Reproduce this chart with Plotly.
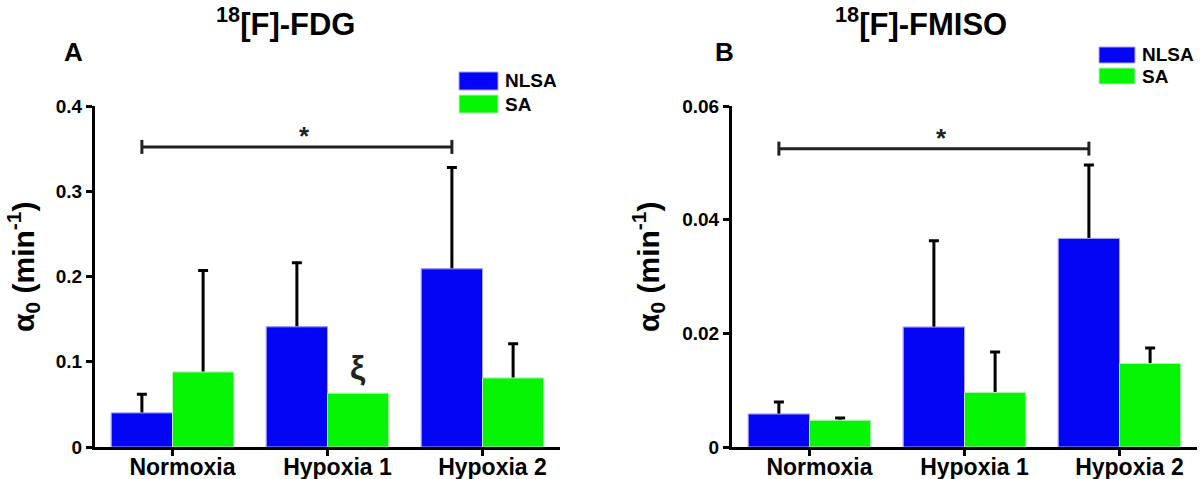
import numpy as np
import plotly.graph_objects as go

categories = ['Normoxia', 'Hypoxia 1', 'Hypoxia 2']

# 18[F]-FDG, alpha0 (min-1)
fdg_nlsa = [0.040, 0.141, 0.209]
fdg_nlsa_err = [0.022, 0.075, 0.119]
fdg_sa = [0.088, 0.063, 0.081]
fdg_sa_err = [0.119, None, 0.040]

# 18[F]-FMISO, alpha0 (min-1)
fmiso_nlsa = [0.0058, 0.0211, 0.0367]
fmiso_nlsa_err = [0.0021, 0.0152, 0.0129]
fmiso_sa = [0.0047, 0.0096, 0.0147]
fmiso_sa_err = [0.0004, 0.0071, 0.0027]

# significance bracket heights (Normoxia NLSA vs Hypoxia 2 NLSA)
fdg_bracket = 0.352
fmiso_bracket = 0.0525
xi_level = 0.094  # marker above Hypoxia 1 SA in panel A

W, H = 1200, 479
FONT = 'Liberation Sans, Arial, sans-serif'
BLUE, BLUE_EDGE = '#0505f5', '#a8a8f0'
GREEN, GREEN_EDGE = '#05f505', '#b8f0b8'
bargap = 0.21
off = (1 - bargap) / 4  # centre offset of each bar inside its group


def px(x):
    return x / W


def py(y):
    return 1 - y / H


fig = go.Figure()

panels = [
    ('x', 'y', 'A', 0.4, fdg_nlsa, fdg_nlsa_err, fdg_sa, fdg_sa_err),
    ('x2', 'y2', 'B', 0.06, fmiso_nlsa, fmiso_nlsa_err, fmiso_sa, fmiso_sa_err),
]

for xa, ya, tag, ymax, nlsa, nlsa_err, sa, sa_err in panels:
    # tuck the lower cap of each error bar just inside the bar (hidden by the cover bars)
    tuck = ymax * 3 / 341
    for name, vals, err, col, edge in [('NLSA', nlsa, nlsa_err, BLUE, BLUE_EDGE),
                                       ('SA', sa, sa_err, GREEN, GREEN_EDGE)]:
        up = np.array(err, dtype=float)
        down = np.where(np.isnan(up), np.nan, tuck)
        fig.add_trace(go.Bar(
            x=categories, y=vals, name=name, xaxis=xa, yaxis=ya,
            offsetgroup=tag + name, showlegend=False,
            marker=dict(color=col, line=dict(color=edge, width=1)),
            error_y=dict(type='data', array=up, arrayminus=down, symmetric=False,
                         color='black', thickness=3, width=5),
        ))
    # same bars again on top so the error bars start at the bar top
    for name, vals, col, edge in [('NLSA', nlsa, BLUE, BLUE_EDGE), ('SA', sa, GREEN, GREEN_EDGE)]:
        fig.add_trace(go.Bar(
            x=categories, y=vals, name=name, xaxis=xa, yaxis=ya,
            offsetgroup=tag + name, showlegend=False, hoverinfo='skip',
            marker=dict(color=col, line=dict(color=edge, width=1)),
        ))

ydom = [py(447), py(106)]
xcommon = dict(type='category', range=[-0.5, 2.5], showline=True, linewidth=3, linecolor='black',
               ticks='outside', ticklen=6, tickwidth=3, tickcolor='black', showgrid=False,
               zeroline=False, automargin=False, ticklabelstandoff=-9, ticklabelshift=10,
               tickfont=dict(family=FONT, size=23, color='black', weight='bold'))
ycommon = dict(showline=True, linewidth=3, linecolor='black', ticks='outside', ticklen=6,
               tickwidth=3, tickcolor='black', showgrid=False, zeroline=False, automargin=False,
               tickfont=dict(family=FONT, size=19, color='black', weight='bold'))

fig.update_layout(
    width=W, height=H, margin=dict(l=0, r=0, t=0, b=0, autoexpand=False),
    paper_bgcolor='white', plot_bgcolor='white',
    barmode='group', bargap=bargap, bargroupgap=0,
    xaxis=dict(domain=[px(95), px(560)], anchor='y', **xcommon),
    yaxis=dict(domain=ydom, anchor='x', range=[0, 0.4], dtick=0.1, **ycommon),
    xaxis2=dict(domain=[px(732), px(1197)], anchor='y2', **xcommon),
    yaxis2=dict(domain=ydom, anchor='x2', range=[0, 0.06], dtick=0.02, **ycommon),
)

shapes = []
annotations = []

# significance brackets with star
for xa, ya, level in [('x', 'y', fdg_bracket), ('x2', 'y2', fmiso_bracket)]:
    x0, x1 = 0 - off, 2 - off
    shapes.append(dict(type='line', xref=xa, yref=ya, x0=x0, x1=x1, y0=level, y1=level,
                       line=dict(color='#222222', width=3)))
    for xc in (x0, x1):
        shapes.append(dict(type='line', xref=xa, yref=ya, ysizemode='pixel', yanchor=level,
                           x0=xc, x1=xc, y0=-7, y1=7, line=dict(color='#222222', width=3)))
    annotations.append(dict(xref=xa, yref=ya, x=(x0 + x1) / 2 + 0.05, y=level, text='<b>*</b>',
                            showarrow=False, xanchor='center', yanchor='bottom', yshift=-6,
                            font=dict(family=FONT, size=26, color='#222222')))

annotations.append(dict(xref='x', yref='y', x=1 + off, y=xi_level, text='<b>ξ</b>',
                        showarrow=False, xanchor='center', yanchor='middle',
                        font=dict(family=FONT, size=34, color='#222222')))

# titles, panel letters, y titles
for xc, title in [(285, '<b><sup>18</sup>[F]-FDG</b>'), (921, '<b><sup>18</sup>[F]-FMISO</b>')]:
    annotations.append(dict(xref='paper', yref='paper', x=px(xc), y=py(22), text=title,
                            showarrow=False, xanchor='center', yanchor='middle',
                            font=dict(family=FONT, size=31, color='black')))
for xc, letter in [(73, '<b>A</b>'), (724, '<b>B</b>')]:
    annotations.append(dict(xref='paper', yref='paper', x=px(xc), y=py(52), text=letter,
                            showarrow=False, xanchor='center', yanchor='middle',
                            font=dict(family=FONT, size=26, color='black')))
for xc in (23, 648):
    annotations.append(dict(xref='paper', yref='paper', x=px(xc), y=py(267),
                            text='<b>α<sub>0</sub> (min<sup>-1</sup>)</b>', textangle=-90,
                            showarrow=False, xanchor='center', yanchor='middle',
                            font=dict(family=FONT, size=30, color='black')))

# legends drawn as boxes + text
for lx, ly, sw, sh, gap in [(459, 72, 39, 18, 5), (1099, 47, 36, 16, 5)]:
    for i, (lab, col, edge) in enumerate([('NLSA', BLUE, BLUE_EDGE), ('SA', GREEN, GREEN_EDGE)]):
        top = ly + i * (sh + gap)
        shapes.append(dict(type='rect', xref='paper', yref='paper',
                           x0=px(lx), x1=px(lx + sw), y0=py(top + sh), y1=py(top),
                           fillcolor=col, line=dict(color=edge, width=1)))
        annotations.append(dict(xref='paper', yref='paper', x=px(lx + sw + 5), y=py(top + sh / 2),
                                text='<b>%s</b>' % lab, showarrow=False,
                                xanchor='left', yanchor='middle',
                                font=dict(family=FONT, size=19, color='black')))

fig.update_layout(shapes=shapes, annotations=annotations)

# page body margin would push the 1200x479 figure out of the window
fig.write_html("out.html", config={'displayModeBar': False},
               post_script="document.body.style.margin='0';")
